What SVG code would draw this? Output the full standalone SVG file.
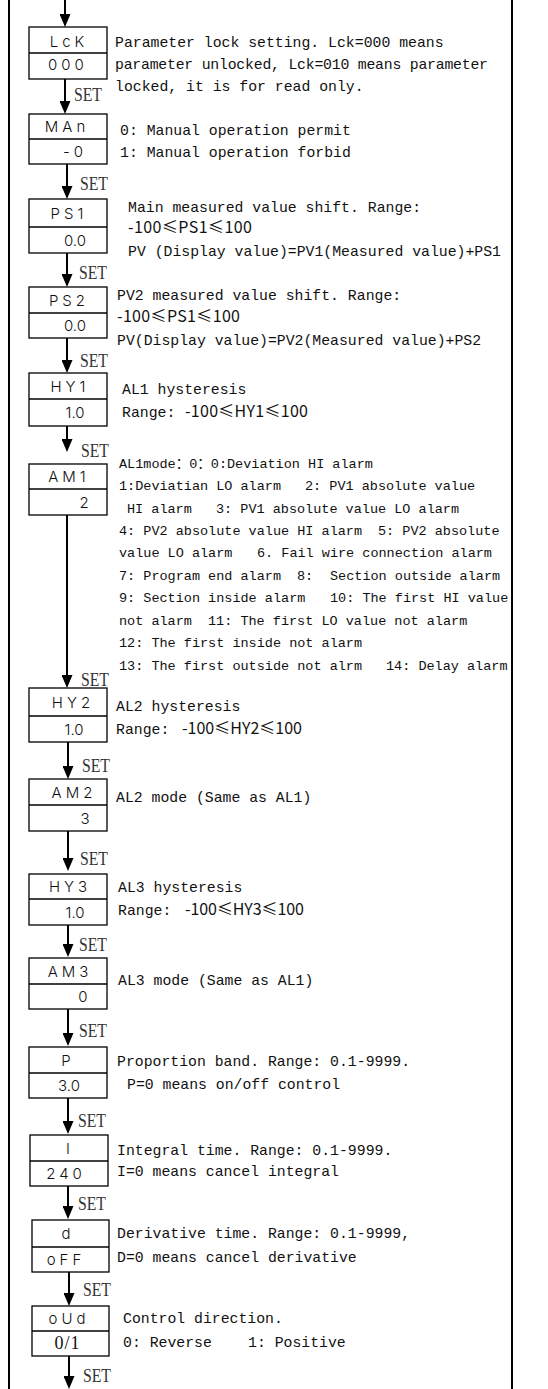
<svg xmlns="http://www.w3.org/2000/svg" width="548" height="1389" viewBox="0 0 548 1389">
<style>
.frame{stroke:#000;stroke-width:2;fill:none}
.box{fill:#fff;stroke:#000;stroke-width:1.3}
.div{stroke:#000;stroke-width:1.3}
.lbl{font-family:"Inter","DejaVu Sans",sans-serif;font-weight:300;font-size:15px;letter-spacing:4px;text-anchor:middle;fill:#111}
.lbd{font-family:"Inter","DejaVu Sans",sans-serif;font-weight:300;font-size:15px;letter-spacing:0px;text-anchor:middle;fill:#111}
.ser{font-family:"Liberation Serif",serif;font-size:18px;letter-spacing:1px;text-anchor:middle;fill:#111}
.d{font-family:"Liberation Mono","Noto Sans CJK SC",monospace;font-size:14.8px;fill:#111}
.d2{font-family:"Liberation Mono","Noto Sans CJK SC",monospace;font-size:13.5px;fill:#111}
.r{font-family:"Noto Sans CJK SC","Liberation Sans",sans-serif;font-size:16px;fill:#111}
.set{font-family:"Liberation Serif",serif;font-size:18px;fill:#333}
.conn line{stroke:#000;stroke-width:2}
</style>
<defs>
<marker id="ah" markerUnits="userSpaceOnUse" markerWidth="13" markerHeight="11" viewBox="0 0 13 11" refX="5" refY="5.5" orient="auto">
<path d="M0,0 L13,5.5 L0,11 z" fill="#000"/>
</marker>
</defs>
<line class="frame" x1="9" y1="0" x2="9" y2="1389"/>
<line class="frame" x1="512" y1="0" x2="512" y2="1389"/>
<g id="connectors" class="conn">
<line x1="65" y1="0" x2="65" y2="19" marker-end="url(#ah)"/>
<line x1="65" y1="79" x2="65" y2="106" marker-end="url(#ah)"/>
<line x1="67" y1="164" x2="67" y2="191" marker-end="url(#ah)"/>
<line x1="67" y1="253" x2="67" y2="279" marker-end="url(#ah)"/>
<line x1="67" y1="338" x2="67" y2="365" marker-end="url(#ah)"/>
<line x1="67" y1="426" x2="67" y2="444" marker-end="url(#ah)"/>
<line x1="67" y1="515" x2="67" y2="680" marker-end="url(#ah)"/>
<line x1="68" y1="742" x2="68" y2="771" marker-end="url(#ah)"/>
<line x1="68" y1="831" x2="68" y2="863" marker-end="url(#ah)"/>
<line x1="68" y1="925" x2="68" y2="949" marker-end="url(#ah)"/>
<line x1="68" y1="1009" x2="68" y2="1038" marker-end="url(#ah)"/>
<line x1="68" y1="1098" x2="68" y2="1126" marker-end="url(#ah)"/>
<line x1="68" y1="1186" x2="68" y2="1211" marker-end="url(#ah)"/>
<line x1="69" y1="1272" x2="69" y2="1298" marker-end="url(#ah)"/>
<line x1="69" y1="1356" x2="69" y2="1381" marker-end="url(#ah)"/>
<text class="set" x="74" y="101" textLength="28" lengthAdjust="spacingAndGlyphs">SET</text>
<text class="set" x="80" y="190" textLength="28" lengthAdjust="spacingAndGlyphs">SET</text>
<text class="set" x="79" y="279" textLength="28" lengthAdjust="spacingAndGlyphs">SET</text>
<text class="set" x="80" y="367" textLength="28" lengthAdjust="spacingAndGlyphs">SET</text>
<text class="set" x="81" y="457" textLength="28" lengthAdjust="spacingAndGlyphs">SET</text>
<text class="set" x="81" y="686" textLength="28" lengthAdjust="spacingAndGlyphs">SET</text>
<text class="set" x="82" y="772" textLength="28" lengthAdjust="spacingAndGlyphs">SET</text>
<text class="set" x="80" y="865" textLength="28" lengthAdjust="spacingAndGlyphs">SET</text>
<text class="set" x="79" y="951" textLength="28" lengthAdjust="spacingAndGlyphs">SET</text>
<text class="set" x="79" y="1037" textLength="28" lengthAdjust="spacingAndGlyphs">SET</text>
<text class="set" x="78" y="1127" textLength="28" lengthAdjust="spacingAndGlyphs">SET</text>
<text class="set" x="78" y="1210" textLength="28" lengthAdjust="spacingAndGlyphs">SET</text>
<text class="set" x="83" y="1296" textLength="28" lengthAdjust="spacingAndGlyphs">SET</text>
<text class="set" x="83" y="1382" textLength="28" lengthAdjust="spacingAndGlyphs">SET</text>
</g>
<g id="node-lck">
<rect class="box" x="29" y="27" width="78" height="52"/>
<line class="div" x1="29" y1="53" x2="107" y2="53"/>
<text class="lbl" x="69" y="47">LcK</text>
<text class="lbl" x="68" y="70">000</text>
<text class="d" x="115" y="47">Parameter lock setting. Lck=000 means</text>
<text class="d" x="115" y="69" textLength="373">parameter unlocked, Lck=010 means parameter</text>
<text class="d" x="115" y="91">locked, it is for read only.</text>
</g>
<g id="node-man">
<rect class="box" x="29" y="114" width="78" height="50"/>
<line class="div" x1="29" y1="139" x2="107" y2="139"/>
<text class="lbl" x="67" y="132">MAn</text>
<text class="lbl" x="75" y="157">-0</text>
<text class="d" x="120" y="135">0: Manual operation permit</text>
<text class="d" x="120" y="157">1: Manual operation forbid</text>
</g>
<g id="node-ps1">
<rect class="box" x="29" y="199" width="78" height="54"/>
<line class="div" x1="29" y1="227" x2="107" y2="227"/>
<text class="lbl" x="69" y="218.5">PS1</text>
<text class="lbd" x="75" y="245.5">0.0</text>
<text class="d" x="128" y="212">Main measured value shift. Range:</text>
<text class="r" x="128" y="233" textLength="124">-100≤PS1≤100</text>
<text class="d" x="128" y="256">PV (Display value)=PV1(Measured value)+PS1</text>
</g>
<g id="node-ps2">
<rect class="box" x="29" y="287" width="78" height="51"/>
<line class="div" x1="29" y1="313" x2="107" y2="313"/>
<text class="lbl" x="69" y="305.5">PS2</text>
<text class="lbd" x="75" y="331">0.0</text>
<text class="d" x="117" y="300">PV2 measured value shift. Range:</text>
<text class="r" x="117" y="322" textLength="123">-100≤PS1≤100</text>
<text class="d" x="117" y="345">PV(Display value)=PV2(Measured value)+PS2</text>
</g>
<g id="node-hy1">
<rect class="box" x="29" y="373" width="78" height="53"/>
<line class="div" x1="29" y1="399" x2="107" y2="399"/>
<text class="lbl" x="70" y="391.5">HY1</text>
<text class="lbd" x="75" y="418">1.0</text>
<text class="d" x="122" y="394">AL1 hysteresis</text>
<text class="d" x="122" y="417">Range:</text>
<text class="r" x="185" y="417" textLength="123">-100≤HY1≤100</text>
</g>
<g id="node-am1">
<rect class="box" x="29" y="464" width="78" height="51"/>
<line class="div" x1="29" y1="489" x2="107" y2="489"/>
<text class="lbl" x="69" y="482">AM1</text>
<text class="lbl" x="86" y="507.5">2</text>
<text class="d2" x="119" y="468">AL1mode：0：0:Deviation HI alarm</text>
<text class="d2" y="490"><tspan x="119">1:Deviatian LO alarm</tspan><tspan x="305">2: PV1 absolute value</tspan></text>
<text class="d2" y="513"><tspan x="127">HI alarm</tspan><tspan x="216">3: PV1 absolute value LO alarm</tspan></text>
<text class="d2" y="535"><tspan x="119">4: PV2 absolute value HI alarm</tspan><tspan x="378">5: PV2 absolute</tspan></text>
<text class="d2" y="557"><tspan x="119">value LO alarm</tspan><tspan x="257">6. Fail wire connection alarm</tspan></text>
<text class="d2" y="580"><tspan x="119">7: Program end alarm</tspan><tspan x="297">8:</tspan><tspan x="330">Section outside alarm</tspan></text>
<text class="d2" y="602"><tspan x="119">9: Section inside alarm</tspan><tspan x="330">10: The first HI value</tspan></text>
<text class="d2" y="625"><tspan x="119">not alarm</tspan><tspan x="208">11: The first LO value not alarm</tspan></text>
<text class="d2" x="119" y="647">12: The first inside not alarm</text>
<text class="d2" y="670"><tspan x="119">13: The first outside not alrm</tspan><tspan x="386">14: Delay alarm</tspan></text>
</g>
<g id="node-hy2">
<rect class="box" x="29" y="688" width="78" height="54"/>
<line class="div" x1="29" y1="716" x2="107" y2="716"/>
<text class="lbl" x="73" y="707.5">HY2</text>
<text class="lbd" x="74" y="734.5">1.0</text>
<text class="d" x="116" y="711">AL2 hysteresis</text>
<text class="d" x="116" y="734">Range:</text>
<text class="r" x="182" y="734" textLength="120">-100≤HY2≤100</text>
</g>
<g id="node-am2">
<rect class="box" x="29" y="779" width="78" height="52"/>
<line class="div" x1="29" y1="805" x2="107" y2="805"/>
<text class="lbl" x="74" y="797.5">AM2</text>
<text class="lbl" x="87" y="823.5">3</text>
<text class="d" x="116" y="802">AL2 mode (Same as AL1)</text>
</g>
<g id="node-hy3">
<rect class="box" x="29" y="874" width="78" height="51"/>
<line class="div" x1="29" y1="899" x2="107" y2="899"/>
<text class="lbl" x="70" y="892">HY3</text>
<text class="lbd" x="75" y="917.5">1.0</text>
<text class="d" x="118" y="892">AL3 hysteresis</text>
<text class="d" x="118" y="915">Range:</text>
<text class="r" x="185" y="915" textLength="119">-100≤HY3≤100</text>
</g>
<g id="node-am3">
<rect class="box" x="29" y="958" width="78" height="51"/>
<line class="div" x1="29" y1="984" x2="107" y2="984"/>
<text class="lbl" x="70" y="976.5">AM3</text>
<text class="lbl" x="85" y="1002">0</text>
<text class="d" x="118" y="985">AL3 mode (Same as AL1)</text>
</g>
<g id="node-p">
<rect class="box" x="29" y="1047" width="78" height="51"/>
<line class="div" x1="29" y1="1073" x2="107" y2="1073"/>
<text class="lbl" x="68" y="1065.5">P</text>
<text class="lbd" x="69" y="1091">3.0</text>
<text class="d" x="117" y="1066">Proportion band. Range: 0.1-9999.</text>
<text class="d" x="127" y="1089">P=0 means on/off control</text>
</g>
<g id="node-i">
<rect class="box" x="30" y="1135" width="78" height="51"/>
<line class="div" x1="30" y1="1161" x2="108" y2="1161"/>
<text class="lbl" x="70" y="1153.5">I</text>
<text class="lbl" x="66" y="1179">240</text>
<text class="d" x="117" y="1155">Integral time. Range: 0.1-9999.</text>
<text class="d" x="117" y="1176">I=0 means cancel integral</text>
</g>
<g id="node-d">
<rect class="box" x="32" y="1220" width="77" height="52"/>
<line class="div" x1="32" y1="1247" x2="109" y2="1247"/>
<text class="lbl" x="68" y="1239">d</text>
<text class="lbl" x="66" y="1265">oFF</text>
<text class="d" x="117" y="1238">Derivative time. Range: 0.1-9999,</text>
<text class="d" x="117" y="1262">D=0 means cancel derivative</text>
</g>
<g id="node-oud">
<rect class="box" x="32" y="1306" width="77" height="50"/>
<line class="div" x1="32" y1="1331" x2="109" y2="1331"/>
<text class="lbl" x="69" y="1324">oUd</text>
<text class="ser" x="67.5" y="1349">0/1</text>
<text class="d" x="123" y="1323">Control direction.</text>
<text class="d" y="1347"><tspan x="123">0: Reverse</tspan><tspan x="248">1: Positive</tspan></text>
</g>
</svg>
